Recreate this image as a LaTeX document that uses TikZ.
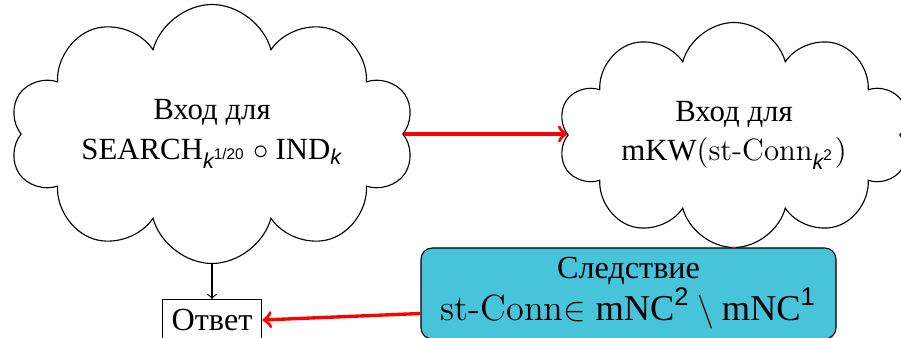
\documentclass[tikz,border=0pt]{standalone}
\usepackage{amsmath}
\usepackage{fontspec}
\usetikzlibrary{shapes.symbols}
\newfontfamily\cyr{Liberation Serif}
\newfontfamily\tms{Liberation Serif}
\newfontfamily\hel{Liberation Sans}
\newcommand\opname[1]{\text{\tms #1}}
\newcommand\sk{\text{\hel\itshape k}}
\newcommand\snum[1]{\text{\hel #1}}
\definecolor{boxfill}{RGB}{72,196,218}
\tikzset{
  cloudnode/.style={cloud, draw, cloud puffs=10, shape border rotate=18, cloud ignores aspect,
    align=center, inner sep=0pt, font=\fontsize{11}{14}\selectfont},
  ansbox/.style={draw, rectangle, inner sep=3.4pt, font=\fontsize{11.5}{14}\selectfont},
  resbox/.style={draw, rounded corners=4pt, fill=boxfill, align=center},
  redarrow/.style={->, red, very thick},
  plainarrow/.style={->}
}
\begin{document}
\begin{tikzpicture}[x=0.357pt, y=-0.357pt]
\useasboundingbox (0,0) rectangle (901,338);
% two input clouds
\node[cloudnode, minimum width=405*0.357pt, minimum height=259*0.357pt] (c1) at (212,134)
  {{\cyr Вход для}\\ $\opname{SEARCH}_{\sk^{\snum{1/20}}}\circ\opname{IND}_{\sk}$};
\node[cloudnode, minimum width=352*0.357pt, minimum height=225*0.357pt] (c2) at (734,135)
  {{\cyr Вход для}\\ $\opname{mKW}(\text{st-Conn}_{\sk^{\snum{2}}})$};
% answer box and corollary box
\node[ansbox] (ans) at (212,320) {\cyr Ответ};
\node[resbox, minimum width=415*0.357pt, minimum height=91*0.357pt] (res) at (628.5,293.5)
  {{\fontsize{11.5}{14}\selectfont\cyr Следствие}\\
   {\fontsize{13}{16}\selectfont $\text{st-Conn}{\in}\;\opname{mNC}^{\snum{2}}\setminus\opname{mNC}^{\snum{1}}$}};
% connectors
\draw[redarrow] (c1.east) -- (c1.east -| c2.west);
\draw[plainarrow] (c1.south) -- (ans.north);
\draw[red, very thick] (c2.south) -- (c2.south |- res.north);
\draw[redarrow] ([yshift=-20*0.357pt]res.west) -- (ans.east);
\end{tikzpicture}
\end{document}
